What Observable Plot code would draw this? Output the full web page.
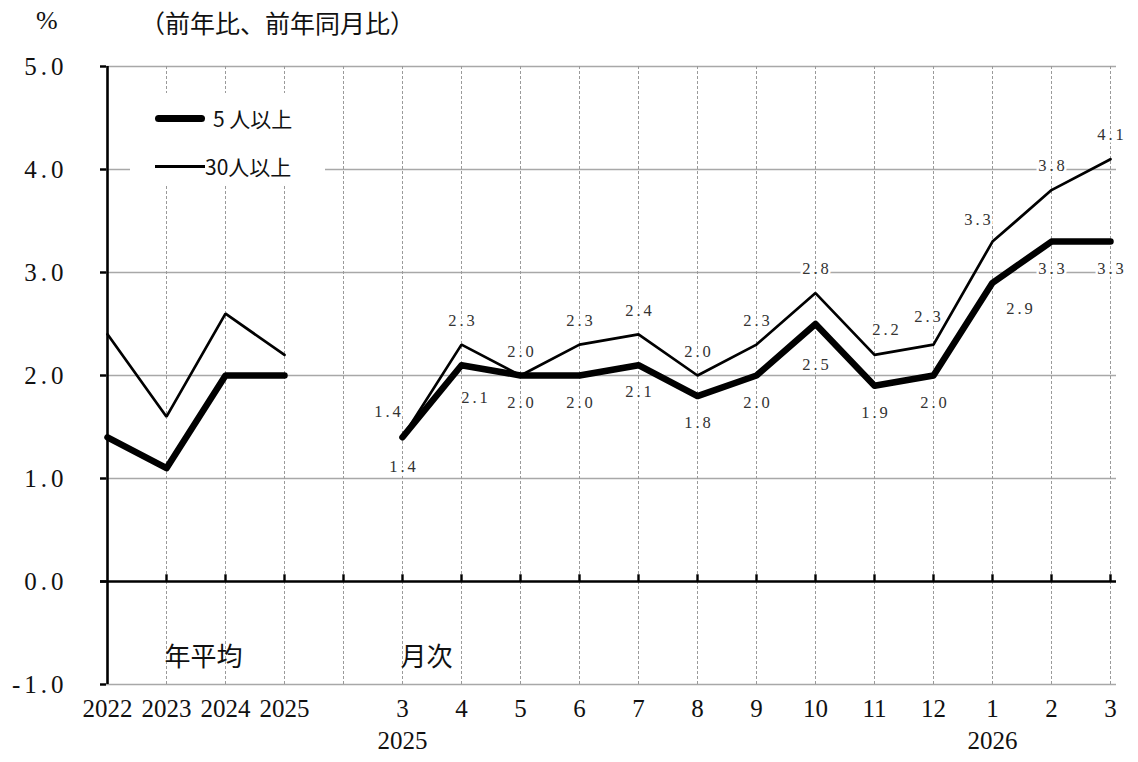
<!DOCTYPE html>
<html><head><meta charset="utf-8">
<script src="https://cdn.jsdelivr.net/npm/d3@7"></script>
<script src="https://cdn.jsdelivr.net/npm/@observablehq/plot@0.6"></script>
<style>
body{margin:0;background:#fff;}
#wrap{position:relative;width:1138px;height:762px;overflow:hidden;}
.t{position:absolute;white-space:nowrap;color:#111;}
.legend{position:absolute;left:130px;top:93px;width:195px;height:92px;background:#fff;}
.sw{position:absolute;background:#000;}
</style></head><body><div id="wrap"></div>
<script>
// ---- data ----
const xKeys = ["2022","2023","2024","2025","gap",
  "2025-3","2025-4","2025-5","2025-6","2025-7","2025-8","2025-9","2025-10","2025-11","2025-12",
  "2026-1","2026-2","2026-3"];
const xTickLabels = ["2022","2023","2024","2025","",
  "3","4","5","6","7","8","9","10","11","12","1","2","3"];
const yearLabels = [{key:"2025-3", text:"2025"},{key:"2026-1", text:"2026"}];
const yTicks = [-1,0,1,2,3,4,5];

const annualKeys = ["2022","2023","2024","2025"];
const monthKeys = ["2025-3","2025-4","2025-5","2025-6","2025-7","2025-8","2025-9","2025-10","2025-11","2025-12","2026-1","2026-2","2026-3"];

const seriesNames = ["5 人以上","30人以上"];
const annual5  = [1.4, 1.1, 2.0, 2.0];
const annual30 = [2.4, 1.6, 2.6, 2.2];
const monthly5  = [1.4, 2.1, 2.0, 2.0, 2.1, 1.8, 2.0, 2.5, 1.9, 2.0, 2.9, 3.3, 3.3];
const monthly30 = [1.4, 2.3, 2.0, 2.3, 2.4, 2.0, 2.3, 2.8, 2.2, 2.3, 3.3, 3.8, 4.1];

const title = "（前年比、前年同月比）";
const unit = "%";
const noteAnnual = "年平均";
const noteMonthly = "月次";

// ---- label offsets (style) ----
const off30 = {"2025-3":[-15,-26],"2025-11":[11,-25],"2025-12":[-6,-28],"2026-1":[-15,-22]};
const def30 = [0,-24];
const off5 = {"2025-3":[0,29],"2025-4":[13,33],"2025-10":[0,41],"2026-1":[27,26]};
const def5 = [0,27];

// ---- build rows ----
function rows(keys, vals, seg){ return keys.map((k,i)=>({key:k, value:vals[i], seg})); }
const rows5 = [...rows(annualKeys, annual5, "a"), ...rows(monthKeys, monthly5, "m")];
const rows30 = [...rows(annualKeys, annual30, "a"), ...rows(monthKeys, monthly30, "m")];
const lab5 = rows(monthKeys, monthly5, "m");
const lab30 = rows(monthKeys, monthly30, "m");

const numFont = "Liberation Serif, DejaVu Serif, serif";
const cjkFont = "Noto Sans CJK JP, sans-serif";

const labelMarks = [];
for (const [labs, offs, def] of [[lab30, off30, def30],[lab5, off5, def5]]) {
  for (const r of labs) {
    const [dx,dy] = offs[r.key] || def;
    labelMarks.push(Plot.text([r], {x:"key", y:"value", text:d=>d.value.toFixed(1), dx: dx + 1.5, dy,
      fontSize:16.5, fill:"#333", stroke:"white", strokeWidth:5, paintOrder:"stroke"}));
  }
}

const plot = Plot.plot({
  width:1138, height:762,
  marginTop:66, marginBottom:78, marginLeft:100, marginRight:22,
  x:{type:"point", domain:xKeys, padding:0, axis:null},
  y:{domain:[-1,5], axis:null},
  style:{background:"white", overflow:"visible"},
  marks:[
    Plot.ruleY(yTicks.filter(d=>d!==0), {stroke:"#a8a8a8", strokeWidth:1.6}),
    Plot.ruleX(xKeys.slice(1), {stroke:"#9a9a9a", strokeWidth:1, strokeDasharray:"3,2"}),
    Plot.ruleY([0], {stroke:"black", strokeWidth:2.6}),
    Plot.ruleX(xKeys.slice(1), {y1:0, y2:0.065, stroke:"black", strokeWidth:2.4}),
    Plot.ruleX([xKeys[0]], {stroke:"black", strokeWidth:2.6}),
    Plot.axisY({ticks:yTicks, tickSize:-6, tickFormat:()=>"", label:null, strokeWidth:2.4}),
    Plot.text(yTicks, {y:d=>d, text:d=>d.toFixed(1), frameAnchor:"left", textAnchor:"end", dx:-33,
      fontSize:25, fill:"#111"}),
    Plot.text(xKeys.map((k,i)=>({k, t:xTickLabels[i]})), {x:"k", text:"t", frameAnchor:"bottom", dy:32,
      fontSize:25, fill:"#111"}),
    Plot.text(yearLabels, {x:"key", text:"text", frameAnchor:"bottom", dy:64,
      fontSize:25, fill:"#111"}),
    Plot.line(rows30, {x:"key", y:"value", z:"seg", stroke:"black", strokeWidth:2.7, strokeLinejoin:"miter"}),
    Plot.line(rows5, {x:"key", y:"value", z:"seg", stroke:"black", strokeWidth:6.5, strokeLinecap:"round", strokeLinejoin:"round"}),
    ...labelMarks,
    Plot.text([noteAnnual], {x:()=>xKeys[1], y:()=>-0.74, text:d=>d, textAnchor:"start", dx:-2,
      fontSize:26, fill:"#111"}),
    Plot.text([noteMonthly], {x:()=>xKeys[5], y:()=>-0.74, text:d=>d, textAnchor:"start", dx:-2,
      fontSize:26, fill:"#111"})
  ]
});

d3.select(plot).selectAll("text").each(function(){
  const s = this.textContent;
  if (/[\u3000-\u9fff]/.test(s)) { this.style.fontFamily = cjkFont; }
  else {
    this.style.fontFamily = numFont;
    if (/\d\.\d/.test(s)) {
      const g = this.closest("g[font-size]");
      const big = g && g.getAttribute("font-size") === "25";
      this.style.letterSpacing = big ? "4px" : "3px";
    }
  }
});

const wrap = document.getElementById("wrap");
wrap.appendChild(plot);

function addDiv(cls, css, text){
  const d = document.createElement("div"); d.className = cls; d.style.cssText = css;
  if (text != null) d.textContent = text; wrap.appendChild(d); return d;
}
addDiv("t", `left:36px;top:6px;font:26px ${numFont};`, unit);
addDiv("t", `left:140px;top:5px;font:25px ${cjkFont};line-height:34px;`, title);
addDiv("legend", "", null);
addDiv("sw", "left:155px;top:115px;width:50px;height:7px;border-radius:4px;");
addDiv("t", `left:213px;top:104px;font:21px ${cjkFont};line-height:28px;`, seriesNames[0]);
addDiv("sw", "left:155px;top:165px;width:50px;height:2.6px;");
addDiv("t", `left:205px;top:152px;font:21px ${cjkFont};line-height:28px;`, seriesNames[1]);
</script></body></html>
